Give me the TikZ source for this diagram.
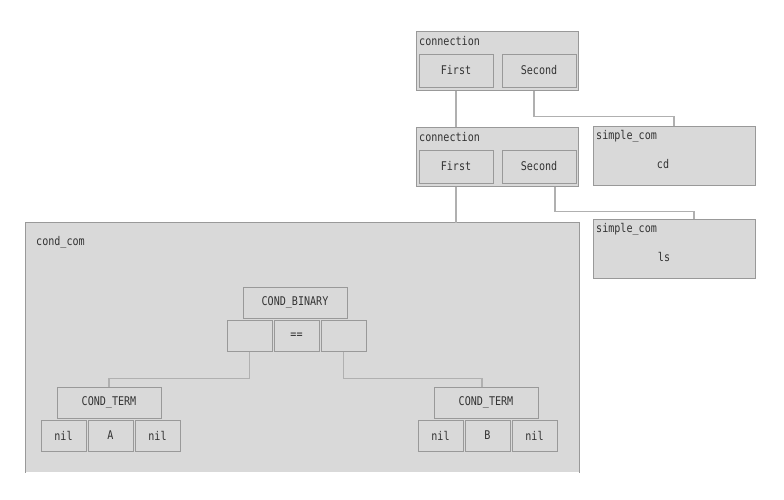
\documentclass[tikz,border=0pt]{standalone}
\usepackage{fontspec}
\newfontfamily\diafont{DejaVu Sans Mono}[FakeStretch=0.84]
\definecolor{boxgray}{HTML}{D9D9D9}
\definecolor{edgegray}{HTML}{999999}
\definecolor{wiregray}{HTML}{B0B0B0}
\definecolor{inkgray}{HTML}{333333}

\begin{document}
\begin{tikzpicture}[x=1pt, y=-1pt]
\tikzset{box/.style={draw=edgegray, fill=boxgray, line width=1pt, inner sep=0pt, text=inkgray, font=\diafont\fontsize{12}{12}\selectfont},
  cell/.style={box, minimum width=45pt, minimum height=31pt},
  part/.style={box, minimum width=74pt, minimum height=33pt},
  frame/.style={box, minimum width=162pt, minimum height=59pt},
  head/.style={box, minimum width=104pt, minimum height=31pt},
  tag/.style={anchor=west, inner sep=0pt, text=inkgray, font=\diafont\fontsize{12}{12}\selectfont},
  wire/.style={draw=wiregray, line width=1.5pt}}
\useasboundingbox (0,0) rectangle (784,499);
\node[frame] (conn1) at (497,60.5) {};
\node[tag] (conn1lbl) at (419,41) {connection};
\node[part] (first1) at (456,70.5) {First};
\node[part] (second1) at (539,70.5) {Second};
\node[frame] (conn2) at (497,156.5) {};
\node[tag] (conn2lbl) at (419,137) {connection};
\node[part] (first2) at (456,166.5) {First};
\node[part] (second2) at (539,166.5) {Second};
\node[frame] (cd) at (674,155.5) {};
\node[tag] (cdlbl) at (596,136) {simple\_com};
\node[tag, anchor=center] (cdtxt) at (663,164) {cd};
\node[frame] (ls) at (674,248.5) {};
\node[tag] (lslbl) at (596,229) {simple\_com};
\node[tag, anchor=center] (lstxt) at (664,257) {ls};
\node[box, draw=none, minimum width=553pt, minimum height=249pt] (cond) at (302.5,347.5) {};
\draw[draw=edgegray, line width=1pt] (cond.south west) -- (cond.north west) -- (cond.north east) -- (cond.south east);
\node[tag] (condlbl) at (36,242) {cond\_com};
\node[head] (binary) at (295,302.5) {COND\_BINARY};
\node[cell] (lhs) at (249.5,335.5) {};
\node[cell] (eq) at (296.5,335.5) {==};
\node[cell] (rhs) at (343.5,335.5) {};
\node[head] (terma) at (109,402.5) {COND\_TERM};
\node[cell] (nila1) at (63.5,435.5) {nil};
\node[cell] (vala) at (110.5,435.5) {A};
\node[cell] (nila2) at (157.5,435.5) {nil};
\node[head] (termb) at (486,402.5) {COND\_TERM};
\node[cell] (nilb1) at (440.5,435.5) {nil};
\node[cell] (valb) at (487.5,435.5) {B};
\node[cell] (nilb2) at (534.5,435.5) {nil};
\draw[wire] (first1 |- conn1.south) -- (first1 |- conn2.north);
\draw[wire] ([xshift=-5pt]second1 |- conn1.south) -- ++(0,26) -| (cd.north);
\draw[wire] (first2 |- conn2.south) -- (first2 |- cond.north);
\draw[wire] ([xshift=16pt]second2 |- conn2.south) -- ++(0,25) -| ([xshift=20pt]ls.north);
\draw[wire] (lhs.south) -- ++(0,27) -| (terma.north);
\draw[wire] (rhs.south) -- ++(0,27) -| ([xshift=-4pt]termb.north);
\end{tikzpicture}
\end{document}
